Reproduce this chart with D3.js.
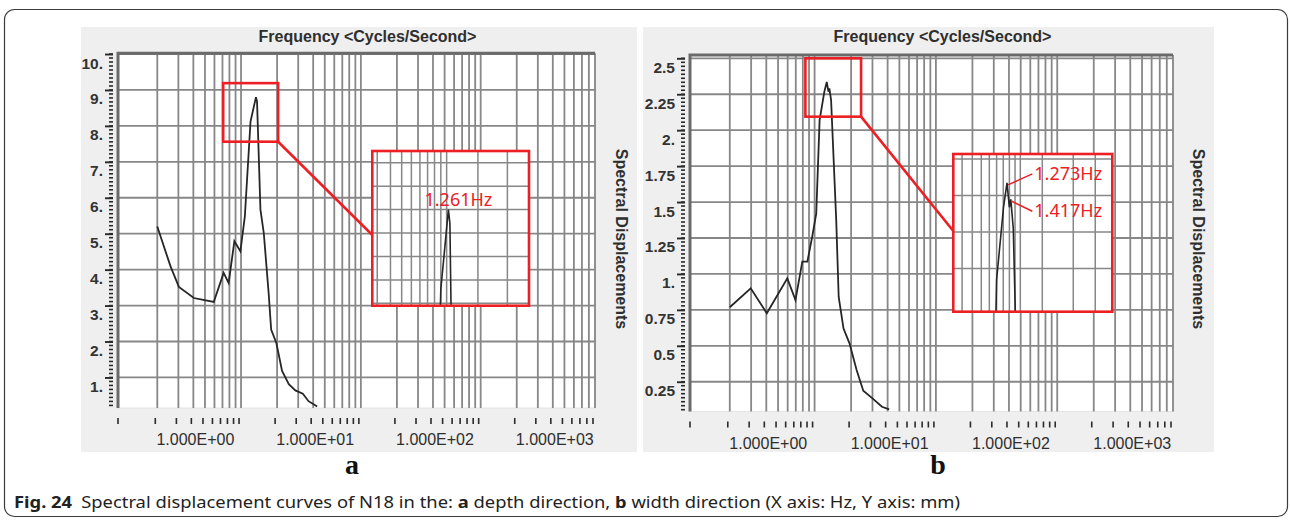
<!DOCTYPE html>
<html>
<head>
<meta charset="utf-8">
<script src="https://cdn.jsdelivr.net/npm/d3@7"></script>
<style>
  body { margin: 0; background: #fff; }
  svg { display: block; }
</style>
</head>
<body>
<div id="chart"></div>
<script>
// Data (frequency in the plotted axis units, displacement in mm)
const freqA = [0.5, 0.645, 0.757, 1.01, 1.24, 1.48, 1.79, 1.97, 2.20, 2.47, 2.69, 3.0, 3.33, 3.40, 3.63, 3.87, 4.25, 4.46, 4.93, 5.5, 6.26, 7.1, 8.2, 9.15, 10.8];
const dispA = [5.20, 4.09, 3.52, 3.21, 3.15, 3.10, 3.91, 3.63, 4.79, 4.51, 5.48, 8.12, 8.80, 8.68, 5.67, 5.02, 3.35, 2.33, 1.96, 1.18, 0.81, 0.64, 0.55, 0.34, 0.19];

const freqB = [0.5, 0.744, 1.01, 1.49, 1.74, 1.98, 2.18, 2.39, 2.58, 2.75, 3.01, 3.15, 3.25, 3.31, 3.42, 3.77, 3.95, 4.33, 4.85, 5.55, 6.3, 7.5, 8.98, 10.3];
const dispB = [0.768, 0.90, 0.726, 0.969, 0.818, 1.085, 1.085, 1.259, 1.42, 2.07, 2.268, 2.335, 2.268, 2.29, 2.21, 1.375, 0.84, 0.62, 0.517, 0.331, 0.187, 0.134, 0.076, 0.058];

// axis ticks and labels
const yTicksA = [1, 2, 3, 4, 5, 6, 7, 8, 9, 10];
const yLabelsA = ["1.", "2.", "3.", "4.", "5.", "6.", "7.", "8.", "9.", "10."];
const yTicksB = [0.25, 0.5, 0.75, 1, 1.25, 1.5, 1.75, 2, 2.25, 2.5];
const yLabelsB = ["0.25", "0.5", "0.75", "1.", "1.25", "1.5", "1.75", "2.", "2.25", "2.5"];
const gridSteps = [0.5, 0.75, 1, 1.25, 1.5, 1.75, 2, 2.25, 2.5];
const decades = [1, 10, 100, 1000];
const xLabelVals = [1, 10, 100, 1000];
const xLabels = ["1.000E+00", "1.000E+01", "1.000E+02", "1.000E+03"];

// zoom insets
const insetGridA = [1.25, 1.5, 1.75, 2, 2.25, 2.5, 2.75, 3, 3.25, 5, 7.5];
const insetYGridA = [8.0, 8.2, 8.4, 8.6, 8.8, 9.0, 9.2];
const insetGridB = [1.75, 2, 2.25, 2.5, 2.75, 3, 3.25, 3.5, 3.75, 5, 7.5, 10];
const insetYGridB = [2.1, 2.2, 2.3, 2.4];
const peakLabelsA = ["1.261Hz"];
const peakLabelsB = ["1.273Hz", "1.417Hz"];

const W = 1290, H = 520;
const RED = "#ec2024";
const GRID = "#878787";

const svg = d3.select("#chart").append("svg")
    .attr("width", W)
    .attr("height", H)
    .style("font-family", "'Liberation Sans', Arial, sans-serif");

// figure frame
svg.append("rect")
    .attr("x", 4.5).attr("y", 9.5)
    .attr("width", 1283).attr("height", 507)
    .attr("rx", 10)
    .attr("fill", "none")
    .attr("stroke", "#3a3a3a")
    .attr("stroke-width", 1.2);

const gridVals = decades.flatMap(d => gridSteps.map(s => +(s * d).toPrecision(4)));

const panels = [
    {
        key: "a", freq: freqA, disp: dispA,
        bg: { x0: 81, y0: 27, x1: 637, y1: 452 },
        plot: { x0: 118, y0: 53.3, x1: 595, y1: 408 },
        xDomain: [0.235, 2250], yDomain: [0.15, 10.02],
        yTicks: yTicksA, yLabels: yLabelsA, yMajor: 1,
        zoomData: { x: [1.774, 5.1], y: [7.56, 9.19] },
        inset: { x0: 372.3, y0: 151, x1: 529, y1: 305.7, xDomain: [1.168, 10.1], yDomain: [7.98, 9.30],
                 grid: insetGridA, yGrid: insetYGridA, joinY: 235 },
        peaks: [{ f: 3.33, v: 8.80, label: peakLabelsA[0] }],
        caption: "a", captionX: 352, spectralX: 615.5
    },
    {
        key: "b", freq: freqB, disp: dispB,
        bg: { x0: 643, y0: 27, x1: 1214, y1: 452 },
        plot: { x0: 690, y0: 55, x1: 1173, y1: 411.5 },
        xDomain: [0.235, 2250], yDomain: [0.043, 2.523],
        yTicks: yTicksB, yLabels: yLabelsB, yMajor: 0.25,
        zoomData: { x: [2.1, 6.04], y: [2.094, 2.5] },
        inset: { x0: 953.3, y0: 154, x1: 1112.3, y1: 311.7, xDomain: [1.56, 12.5], yDomain: [1.982, 2.414],
                 grid: insetGridB, yGrid: insetYGridB, joinY: 231 },
        peaks: [{ f: 3.15, v: 2.335, label: peakLabelsB[0] }, { f: 3.31, v: 2.29, label: peakLabelsB[1] }],
        caption: "b", captionX: 938, spectralX: 1193
    }
];

panels.forEach(p => {
    const g = svg.append("g").attr("class", "panel-" + p.key);
    const P = p.plot;

    const x = d3.scaleLog().domain(p.xDomain).range([P.x0, P.x1]);
    const y = d3.scaleLinear().domain(p.yDomain).range([P.y1, P.y0]);

    // gray panel background
    g.append("rect")
        .attr("x", p.bg.x0).attr("y", p.bg.y0)
        .attr("width", p.bg.x1 - p.bg.x0).attr("height", p.bg.y1 - p.bg.y0)
        .attr("fill", "#efefef");

    // plot area
    g.append("rect")
        .attr("x", P.x0).attr("y", P.y0)
        .attr("width", P.x1 - P.x0).attr("height", P.y1 - P.y0)
        .attr("fill", "#fff")
        .attr("stroke", "#e4e4e4");

    // grid
    const vGrid = gridVals.filter(v => v >= p.xDomain[0] && v <= p.xDomain[1]);
    g.append("g").selectAll("line.vg")
        .data(vGrid)
        .join("line")
        .attr("x1", d => x(d)).attr("x2", d => x(d))
        .attr("y1", P.y0).attr("y2", P.y1)
        .attr("stroke", GRID).attr("stroke-width", 1.8);

    g.append("g").selectAll("line.hg")
        .data(p.yTicks)
        .join("line")
        .attr("x1", P.x0).attr("x2", P.x1)
        .attr("y1", d => y(d)).attr("y2", d => y(d))
        .attr("stroke", GRID).attr("stroke-width", 1.8);

    // 3D-ish frame: dark top and left
    g.append("path")
        .attr("d", `M${P.x0},${P.y1}V${P.y0}H${P.x1}`)
        .attr("fill", "none")
        .attr("stroke", "#6a6a6a")
        .attr("stroke-width", 3);

    // y axis: major ticks with labels, minor ticks
    const minorStep = p.yMajor / 9;
    const minor = d3.range(Math.ceil(p.yDomain[0] / minorStep), Math.floor(p.yDomain[1] / minorStep) + 1)
        .map(i => i * minorStep);
    g.append("g").selectAll("line")
        .data(minor)
        .join("line")
        .attr("x1", P.x0 - 9).attr("x2", P.x0 - 5)
        .attr("y1", d => y(d)).attr("y2", d => y(d))
        .attr("stroke", "#2a2a2a").attr("stroke-width", 1.6);

    const yAxis = d3.axisLeft(y)
        .tickValues(p.yTicks)
        .tickSize(8)
        .tickPadding(2)
        .tickFormat((d, i) => p.yLabels[i]);
    const ya = g.append("g")
        .attr("transform", `translate(${P.x0 - 5},0)`)
        .call(yAxis);
    ya.select(".domain").remove();
    ya.selectAll(".tick line").attr("stroke", "#2a2a2a").attr("stroke-width", 1.9);
    ya.selectAll(".tick text")
        .attr("dy", 14)
        .attr("fill", "#333")
        .style("font-size", "15.5px")
        .style("font-weight", "bold")
        .style("font-family", "'Liberation Sans', Arial, sans-serif");

    // x axis ticks
    const xTicks = [p.xDomain[0]].concat(vGrid);
    g.append("g").selectAll("line")
        .data(xTicks)
        .join("line")
        .attr("x1", (d, i) => x(d) - (i ? 2 : 0)).attr("x2", (d, i) => x(d) - (i ? 2 : 0))
        .attr("y1", P.y1 + 10).attr("y2", P.y1 + 16)
        .attr("stroke", "#2a2a2a").attr("stroke-width", 1.6);

    g.append("g").selectAll("text")
        .data(xLabelVals)
        .join("text")
        .attr("x", d => x(d) + 2)
        .attr("y", P.y1 + 37)
        .attr("text-anchor", "middle")
        .attr("fill", "#2e2e2e")
        .style("font-size", "16px")
        .text((d, i) => xLabels[i]);

    // titles
    g.append("text")
        .attr("x", (P.x0 + P.x1) / 2 + 11)
        .attr("y", 42)
        .attr("text-anchor", "middle")
        .attr("fill", "#2e2e2e")
        .style("font-size", "16px")
        .style("font-weight", "bold")
        .text("Frequency <Cycles/Second>");

    g.append("text")
        .attr("transform", `translate(${p.spectralX},${239}) rotate(90)`)
        .attr("text-anchor", "middle")
        .attr("fill", "#2e2e2e")
        .style("font-size", "16px")
        .style("font-weight", "bold")
        .text("Spectral Displacements");

    // curve
    const clipId = "clip-" + p.key;
    g.append("clipPath").attr("id", clipId)
        .append("rect")
        .attr("x", P.x0).attr("y", P.y0)
        .attr("width", P.x1 - P.x0).attr("height", P.y1 - P.y0);

    const pts = p.freq.map((f, i) => [f, p.disp[i]]);
    const line = d3.line().x(d => x(d[0])).y(d => y(d[1]));
    g.append("path")
        .datum(pts)
        .attr("clip-path", `url(#${clipId})`)
        .attr("d", line)
        .attr("fill", "none")
        .attr("stroke", "#262626")
        .attr("stroke-width", 1.8);

    // zoom box on the main plot
    const zx0 = x(p.zoomData.x[0]), zx1 = x(p.zoomData.x[1]);
    const zy0 = y(p.zoomData.y[1]), zy1 = y(p.zoomData.y[0]);
    g.append("rect")
        .attr("x", zx0).attr("y", zy0)
        .attr("width", zx1 - zx0).attr("height", zy1 - zy0)
        .attr("fill", "none")
        .attr("stroke", RED).attr("stroke-width", 2.6);

    // inset (magnified view)
    const I = p.inset;
    const ix = d3.scaleLog().domain(I.xDomain).range([I.x0, I.x1]);
    const iy = d3.scaleLinear().domain(I.yDomain).range([I.y1, I.y0]);

    g.append("line")
        .attr("x1", zx1).attr("y1", zy1)
        .attr("x2", I.x0).attr("y2", I.joinY)
        .attr("stroke", RED).attr("stroke-width", 2.6);

    g.append("rect")
        .attr("x", I.x0).attr("y", I.y0)
        .attr("width", I.x1 - I.x0).attr("height", I.y1 - I.y0)
        .attr("fill", "#fff");

    g.append("g").selectAll("line")
        .data(I.grid)
        .join("line")
        .attr("x1", d => ix(d)).attr("x2", d => ix(d))
        .attr("y1", I.y0).attr("y2", I.y1)
        .attr("stroke", GRID).attr("stroke-width", 1.5);
    g.append("g").selectAll("line")
        .data(I.yGrid)
        .join("line")
        .attr("x1", I.x0).attr("x2", I.x1)
        .attr("y1", d => iy(d)).attr("y2", d => iy(d))
        .attr("stroke", GRID).attr("stroke-width", 1.5);

    const iclip = "iclip-" + p.key;
    g.append("clipPath").attr("id", iclip)
        .append("rect")
        .attr("x", I.x0).attr("y", I.y0)
        .attr("width", I.x1 - I.x0).attr("height", I.y1 - I.y0);

    const iline = d3.line().x(d => ix(d[0])).y(d => iy(d[1]));
    g.append("path")
        .datum(pts)
        .attr("clip-path", `url(#${iclip})`)
        .attr("d", iline)
        .attr("fill", "none")
        .attr("stroke", "#262626")
        .attr("stroke-width", 1.6);

    g.append("rect")
        .attr("x", I.x0).attr("y", I.y0)
        .attr("width", I.x1 - I.x0).attr("height", I.y1 - I.y0)
        .attr("fill", "none")
        .attr("stroke", RED).attr("stroke-width", 2.6);

    // peak labels
    if (p.peaks.length === 1) {
        const pk = p.peaks[0];
        g.append("text")
            .attr("x", ix(pk.f) + 10)
            .attr("y", iy(pk.v) - 4)
            .attr("text-anchor", "middle")
            .attr("fill", RED)
            .style("font-family", "'Noto Sans', sans-serif")
            .style("font-size", "18px")
            .text(pk.label);
    } else {
        const offs = [-9, 12];
        p.peaks.forEach((pk, i) => {
            const px = ix(pk.f), py = iy(pk.v);
            g.append("line")
                .attr("x1", px + 1).attr("y1", py + 2)
                .attr("x2", I.x0 + 79).attr("y2", py + offs[i])
                .attr("stroke", RED).attr("stroke-width", 1.5);
            g.append("text")
                .attr("x", I.x0 + 81)
                .attr("y", py + offs[i] + 6)
                .attr("fill", RED)
                .style("font-family", "'Noto Sans', sans-serif")
                .style("font-size", "18px")
                .text(pk.label);
        });
    }

    // sub-figure letter
    svg.append("text")
        .attr("x", p.captionX)
        .attr("y", 474)
        .attr("text-anchor", "middle")
        .attr("fill", "#111")
        .style("font-family", "'Liberation Serif', 'Times New Roman', serif")
        .style("font-size", "28px")
        .style("font-weight", "bold")
        .text(p.caption);
});

// figure caption
const cap = svg.append("text")
    .attr("x", 14)
    .attr("y", 508)
    .attr("fill", "#222")
    .attr("textLength", 946)
    .attr("lengthAdjust", "spacingAndGlyphs")
    .style("font-family", "'Noto Sans', sans-serif")
    .style("font-size", "16px");
cap.append("tspan").style("font-weight", "bold").text("Fig. 24");
cap.append("tspan").attr("dx", 8).text("Spectral displacement curves of N18 in the: ");
cap.append("tspan").style("font-weight", "bold").text("a");
cap.append("tspan").text(" depth direction, ");
cap.append("tspan").style("font-weight", "bold").text("b");
cap.append("tspan").text(" width direction (X axis: Hz, Y axis: mm)");
</script>
</body>
</html>
